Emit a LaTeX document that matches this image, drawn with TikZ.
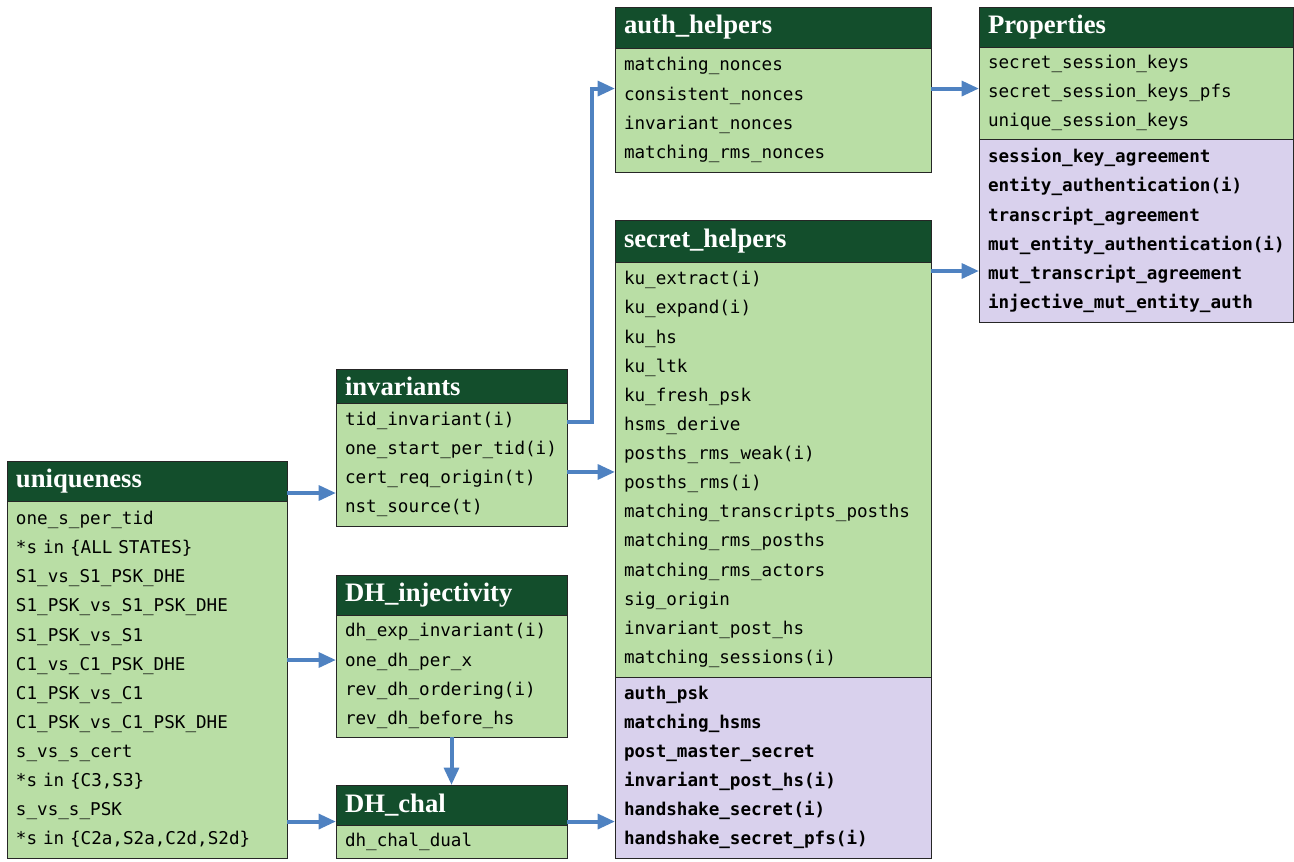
\documentclass[tikz,border=0pt]{standalone}
\usepackage{fontspec}
\newfontfamily\codefont{DejaVu Sans Mono}
\newfontfamily\headfont{Liberation Serif}
\usepackage{xcolor}
\usetikzlibrary{arrows.meta,calc,positioning}

\definecolor{hdgreen}{RGB}{19,78,44}
\definecolor{bodygreen}{RGB}{185,222,165}
\definecolor{bodylilac}{RGB}{217,209,237}
\definecolor{linkblue}{RGB}{79,130,193}

\tikzset{
  hd/.style={draw=black!85, line width=0.6pt, fill=hdgreen, text=white, anchor=north west,
    inner xsep=6.75pt, inner ysep=0pt, outer sep=0pt, align=left,
    font=\headfont\bfseries\fontsize{20}{22}\selectfont},
  rows/.style={draw=black!85, line width=0.6pt, fill=bodygreen, anchor=north west,
    inner xsep=6.75pt, inner ysep=0pt, outer sep=0pt, align=left,
    font=\codefont\fontsize{13.2}{21.85}\selectfont},
  goals/.style={rows, fill=bodylilac, font=\codefont\bfseries\fontsize{13.2}{21.85}\selectfont},
  link/.style={draw=linkblue, line width=3pt, -{Triangle[length=13pt,width=11pt]}}
}

\begin{document}
\begin{tikzpicture}[x=0.75pt,y=0.75pt,yscale=-1,xscale=1]
\useasboundingbox (0,0) rectangle (1294,861);

%Box: uniqueness
\node [hd, text width=196.5pt, minimum height=30pt] (uniq-title) at (7,461) {uniqueness};
\node [rows, text width=196.5pt, minimum height=267.75pt, below=0pt of uniq-title] (uniq-body)
  {one\_s\_per\_tid\\ {*}s in \{ALL STATES\}\\ S1\_vs\_S1\_PSK\_DHE\\ S1\_PSK\_vs\_S1\_PSK\_DHE\\
   S1\_PSK\_vs\_S1\\ C1\_vs\_C1\_PSK\_DHE\\ C1\_PSK\_vs\_C1\\ C1\_PSK\_vs\_C1\_PSK\_DHE\\
   s\_vs\_s\_cert\\ {*}s in \{C3,S3\}\\ s\_vs\_s\_PSK\\ {*}s in \{C2a,S2a,C2d,S2d\}};

%Box: invariants
\node [hd, text width=159.75pt, minimum height=25.5pt] (inv-title) at (336,369) {invariants};
\node [rows, text width=159.75pt, minimum height=92.25pt, below=0pt of inv-title] (inv-body)
  {tid\_invariant(i)\\ one\_start\_per\_tid(i)\\ cert\_req\_origin(t)\\ nst\_source(t)};

%Box: DH_injectivity
\node [hd, text width=159.75pt, minimum height=30pt] (dhinj-title) at (336,575) {DH\_injectivity};
\node [rows, text width=159.75pt, minimum height=91.5pt, below=0pt of dhinj-title] (dhinj-body)
  {dh\_exp\_invariant(i)\\ one\_dh\_per\_x\\ rev\_dh\_ordering(i)\\ rev\_dh\_before\_hs};

%Box: DH_chal
\node [hd, text width=159.75pt, minimum height=30pt] (dhchal-title) at (336,785) {DH\_chal};
\node [rows, text width=159.75pt, minimum height=24.75pt, below=0pt of dhchal-title] (dhchal-body)
  {dh\_chal\_dual};

%Box: auth_helpers
\node [hd, text width=223.5pt, minimum height=30.75pt] (auth-title) at (615,7) {auth\_helpers};
\node [rows, text width=223.5pt, minimum height=93pt, below=0pt of auth-title] (auth-body)
  {matching\_nonces\\ consistent\_nonces\\ invariant\_nonces\\ matching\_rms\_nonces};

%Box: secret_helpers
\node [hd, text width=223.5pt, minimum height=31.5pt] (sec-title) at (615,220) {secret\_helpers};
\node [rows, text width=223.5pt, minimum height=311.25pt, below=0pt of sec-title] (sec-body)
  {ku\_extract(i)\\ ku\_expand(i)\\ ku\_hs\\ ku\_ltk\\ ku\_fresh\_psk\\ hsms\_derive\\
   posths\_rms\_weak(i)\\ posths\_rms(i)\\ matching\_transcripts\_posths\\ matching\_rms\_posths\\
   matching\_rms\_actors\\ sig\_origin\\ invariant\_post\_hs\\ matching\_sessions(i)};
\node [goals, text width=223.5pt, minimum height=135.75pt, below=0pt of sec-body] (sec-goals)
  {auth\_psk\\ matching\_hsms\\ post\_master\_secret\\ invariant\_post\_hs(i)\\
   handshake\_secret(i)\\ handshake\_secret\_pfs(i)};

%Box: Properties
\node [hd, text width=222pt, minimum height=30pt] (prop-title) at (979,7) {Properties};
\node [rows, text width=222pt, minimum height=69pt, below=0pt of prop-title] (prop-body)
  {secret\_session\_keys\\ secret\_session\_keys\_pfs\\ unique\_session\_keys};
\node [goals, text width=222pt, minimum height=137.25pt, below=0pt of prop-body] (prop-goals)
  {session\_key\_agreement\\ entity\_authentication(i)\\ transcript\_agreement\\
   mut\_entity\_authentication(i)\\ mut\_transcript\_agreement\\ injective\_mut\_entity\_auth};

%Links (yscale=-1, so a positive yshift moves down)
\coordinate (u1) at ([yshift=9pt]uniq-title.east);
\draw [link] (u1) -- (u1 -| inv-body.west);
\coordinate (u2) at ([yshift=-12pt]dhinj-body.west);
\draw [link] (u2 -| uniq-body.east) -- (u2);
\coordinate (c1) at ([yshift=-2.6pt]dhchal-title.south west);
\draw [link] (c1 -| uniq-body.east) -- (c1);
\draw [link] (c1 -| dhchal-title.east) -- (c1 -| sec-goals.west);
\draw [link] (dhinj-body.south) -- (dhchal-title.north);
\coordinate (i1) at ([yshift=-31.9pt]inv-body.east);
\coordinate (h1) at ([yshift=-16.1pt]auth-body.west);
\draw [link] (i1) -| ([xshift=-17.25pt]h1) -- (h1);
\coordinate (i2) at ([yshift=5.6pt]inv-body.east);
\draw [link] (i2) -- (i2 -| sec-body.west);
\coordinate (h2) at ([yshift=-16.1pt]auth-body.east);
\draw [link] (h2) -- (h2 -| prop-body.west);
\coordinate (s1) at ([yshift=6.75pt]sec-body.north east);
\draw [link] (s1) -- (s1 -| prop-goals.west);

\end{tikzpicture}
\end{document}
